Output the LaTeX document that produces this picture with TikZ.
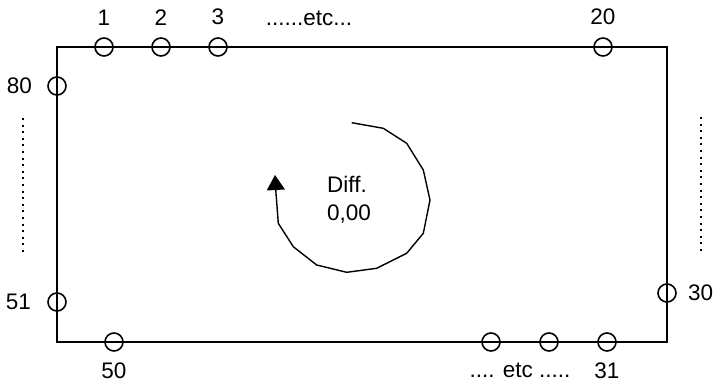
\documentclass[tikz,border=0pt]{standalone}
\usepackage{fontspec}
\setmainfont{Liberation Sans}
\usepackage{tikz}
\usetikzlibrary{positioning,arrows.meta}
\tikzset{
  pin/.style={draw,circle,line width=1.6pt,minimum size=18pt,inner sep=0pt},
  num/.style={inner sep=2pt},
  dotline/.style={line width=2pt,dash pattern=on 2pt off 4.6pt}
}

\begin{document}
\begin{tikzpicture}[x=1pt,y=-1pt, every node/.style={font=\fontsize{22.5}{28.5}\selectfont}]
    \useasboundingbox (0,0) rectangle (716,383);
    \draw[line width=2.8pt] (57,47) rectangle (667,342);
    % top row
    \node[pin] (p1) at (104,47) {};
    \node[pin] (p2) at (161,47) {};
    \node[pin] (p3) at (218,47) {};
    \node[pin] (p20) at (603,47) {};
    \foreach \n in {1,2,3,20} \node[num,above=10pt of p\n] {\n};
    \node[num] (etctop) at (309,18) {......etc...};
    % left side
    \node[pin] (p80) at (57,86) {};
    \node[num,left=13pt of p80] {80};
    \node[pin] (p51) at (57,302) {};
    \node[num,left=14pt of p51] {51};
    \draw[dotline] (23,118) -- (23,252);
    % bottom row
    \node[pin] (p50) at (114,342) {};
    \node[num,below=9pt of p50] {50};
    \node[pin] (pa) at (491,342) {};
    \node[pin] (pb) at (549,342) {};
    \node[pin] (p31) at (607,342) {};
    \node[num,below=9pt of p31] {31};
    \node[num] (etcbot) at (520,370) {.... etc .....};
    % right side
    \node[pin] (p30) at (667,293) {};
    \node[num,right=9pt of p30] {30};
    \draw[dotline] (701,117) -- (701,251);
    % centre
    \node[num,align=left,anchor=west] (diff) at (325,200) {Diff.\\0,00};
    \draw[line width=1.4pt,-{Triangle[width=18pt,length=15pt]}]
      (351.7,122.7) -- (383.3,128.3) -- (406.7,143.3) -- (423.3,170) -- (430,200)
      -- (423.3,233.3) -- (406.7,253.3) -- (376.7,268.3) -- (346.7,272.3)
      -- (316.7,265) -- (293.3,246.7) -- (278.3,223.3) -- (276,193.3) -- (275,175);
\end{tikzpicture}
\end{document}
